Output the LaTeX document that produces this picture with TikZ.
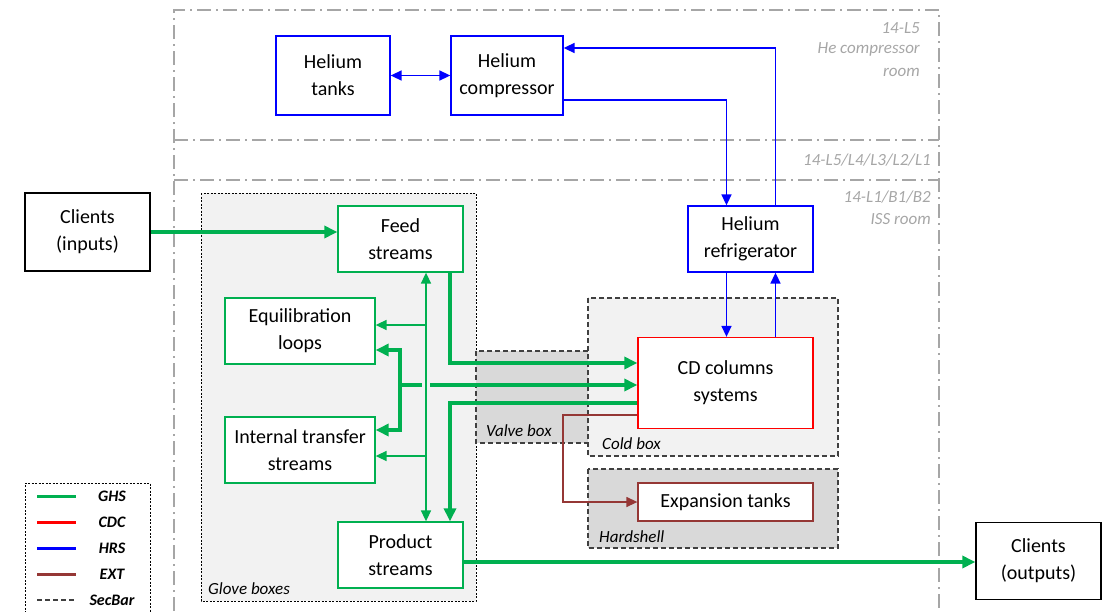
\documentclass[tikz,border=0pt]{standalone}
\usepackage{fontspec}
\setmainfont{Carlito}
\usetikzlibrary{arrows.meta}
\definecolor{ghsgreen}{HTML}{00B050}
\definecolor{cdcred}{HTML}{FF0000}
\definecolor{hrsblue}{HTML}{0000FF}
\definecolor{extbrown}{HTML}{953735}
\definecolor{roomgray}{HTML}{A6A6A6}
\definecolor{boxlight}{HTML}{F2F2F2}
\definecolor{boxdark}{HTML}{D9D9D9}
\definecolor{edgegray}{HTML}{404040}
\begin{document}
\begin{tikzpicture}[x=1pt,y=-1pt,font=\fontsize{20}{27}\selectfont]
    \tikzstyle{unit}=[draw,fill=white,align=center,inner sep=0pt,line width=1.3pt]
    \tikzstyle{room}=[roomgray,line width=1.8pt,dash pattern=on 14pt off 5pt on 2pt off 5pt]
    \tikzstyle{roomlabel}=[roomgray,anchor=east,inner sep=0pt,font=\fontsize{17}{20}\selectfont\itshape]
    \tikzstyle{boxlabel}=[anchor=west,inner sep=0pt,font=\fontsize{17}{20}\selectfont\itshape]
    \tikzstyle{legendlabel}=[inner sep=0pt,font=\fontsize{16}{18}\selectfont\bfseries\itshape]
    \tikzstyle{enclosure}=[edgegray,line width=1.2pt,dash pattern=on 5pt off 3pt]
    \tikzstyle{ghsthick}=[ghsgreen,line width=3.2pt,>={Triangle[length=13pt,width=12pt]}]
    \tikzstyle{ghsthin}=[ghsgreen,line width=1.6pt,>={Triangle[length=11pt,width=10pt]}]
    \tikzstyle{hrsline}=[hrsblue,line width=1.6pt,>={Triangle[length=11pt,width=10pt]}]
    \tikzstyle{extline}=[extbrown,line width=1.4pt,>={Triangle[length=11pt,width=10pt]}]

    \useasboundingbox (0,0) rectangle (1112,611);

    \draw[room] (174,611) -- (174,10) -- (939,10) -- (939,611);
    \draw[room] (174,140) -- (939,140);
    \draw[room] (174,180) -- (939,180);
    \node[roomlabel](lblfive) at (920,28){14-L5};
    \node[roomlabel](lblcomp) at (920,49){He compressor};
    \node[roomlabel](lblroom) at (920,72){room};
    \node[roomlabel](lblshaft) at (931,160){14-L5/L4/L3/L2/L1};
    \node[roomlabel](lbliss) at (931,197){14-L1/B1/B2};
    \node[roomlabel](lblissroom) at (931,219){ISS room};

    \draw[fill=boxlight,line width=0.8pt,dash pattern=on 2pt off 1.5pt] (201,193) rectangle (476,601);
    \draw[enclosure,fill=boxlight] (588,298) rectangle (838,456);
    \draw[enclosure,fill=boxdark] (476,351) rectangle (588,443);
    \draw[enclosure,fill=boxdark] (588,469) rectangle (838,548);
    \node[boxlabel](glovelbl) at (208,589){Glove boxes};
    \node[boxlabel](valvelbl) at (486,431){Valve box};
    \node[boxlabel](coldlbl) at (602,444){Cold box};
    \node[boxlabel](hardlbl) at (599,537){Hardshell};

    \node[unit,draw=hrsblue,minimum width=114pt,minimum height=79pt](tanks) at (333,75.5){Helium\\tanks};
    \node[unit,draw=hrsblue,minimum width=112pt,minimum height=79pt](comp) at (507,75.5){Helium\\compressor};
    \node[unit,draw=hrsblue,minimum width=125pt,minimum height=66pt](fridge) at (750.5,239){Helium\\refrigerator};
    \node[unit,draw=cdcred,minimum width=175pt,minimum height=91pt](cd) at (725.5,383){CD columns\\systems};
    \node[unit,draw=extbrown,minimum width=175pt,minimum height=38pt](exp) at (725.5,502){Expansion tanks};
    \node[unit,draw=ghsgreen,minimum width=125pt,minimum height=66pt](feed) at (400.5,239){Feed\\streams};
    \node[unit,draw=ghsgreen,minimum width=150pt,minimum height=66pt](equil) at (300,331){Equilibration\\loops};
    \node[unit,draw=ghsgreen,minimum width=150pt,minimum height=66pt](internal) at (300,450){Internal transfer\\streams};
    \node[unit,draw=ghsgreen,minimum width=125pt,minimum height=66pt](prod) at (400.5,555){Product\\streams};
    \node[unit,minimum width=125pt,minimum height=78pt](in) at (87.5,232){Clients\\(inputs)};
    \node[unit,minimum width=125pt,minimum height=77pt](out) at (1038.5,561){Clients\\(outputs)};

    \draw[hrsline,<->] (tanks) -- (comp);
    \draw[hrsline,->] ([yshift=-24.5pt]comp.east) -| ([xshift=-24pt]fridge.north);
    \draw[hrsline,->] ([xshift=25pt]fridge.north) |- ([yshift=27.5pt]comp.east);
    \draw[hrsline,->] ([xshift=-24pt]fridge.south) -- ([xshift=-24pt]fridge.south |- cd.north);
    \draw[hrsline,->] ([xshift=25pt]fridge.south |- cd.north) -- ([xshift=25pt]fridge.south);

    \coordinate (eqtap) at (426,325);
    \coordinate (ittap) at (426,456);
    \coordinate (bus) at (400,385);
    \coordinate (bustop) at (400,350);
    \coordinate (busbot) at (400,430);
    \coordinate (extbend) at (563,502);

    \draw[ghsthick,->] (in.east) -- (in.east -| feed.west);
    \draw[ghsthin,<->] ([xshift=25.5pt]feed.south) -- ([xshift=25.5pt]feed.south |- prod.north);
    \draw[ghsthin,->] (eqtap) -- (eqtap -| equil.east);
    \draw[ghsthin,->] (ittap) -- (ittap -| internal.east);
    \draw[ghsthick,->] ([xshift=49.5pt]feed.south) |- ([yshift=20pt]cd.west);
    \draw[ghsthick,<->] (bustop -| equil.east) -- (bustop) -- (busbot) -- (busbot -| internal.east);
    \draw[ghsthick] (bus) -- ++(22,0);
    \draw[ghsthick,->] ([xshift=30pt]bus) -- (bus -| cd.west);
    \draw[ghsthick,->] ([yshift=-20pt]cd.west) -| ([xshift=49.5pt]prod.north);
    \draw[ghsthick,->] ([yshift=-7pt]prod.east) -- ([yshift=-7pt]prod.east -| out.west);
    \draw[extline,->] ([yshift=-32pt]cd.west) -| (extbend) -- (exp.west);

    \draw[line width=0.8pt,dash pattern=on 2pt off 1.5pt] (25,620) -- (25,483) -- (150,483) -- (150,620);
    \draw[ghsgreen,line width=3pt] (37,496) -- (76,496) node[legendlabel,black,xshift=36pt]{GHS};
    \draw[cdcred,line width=3pt] (37,522) -- (76,522) node[legendlabel,black,xshift=36pt]{CDC};
    \draw[hrsblue,line width=3pt] (37,548) -- (76,548) node[legendlabel,black,xshift=36pt]{HRS};
    \draw[extbrown,line width=3pt] (37,574) -- (76,574) node[legendlabel,black,xshift=36pt]{EXT};
    \draw[edgegray,line width=1.2pt,dash pattern=on 5pt off 3pt] (37,600) -- (76,600) node[legendlabel,black,xshift=36pt]{SecBar};
\end{tikzpicture}
\end{document}
